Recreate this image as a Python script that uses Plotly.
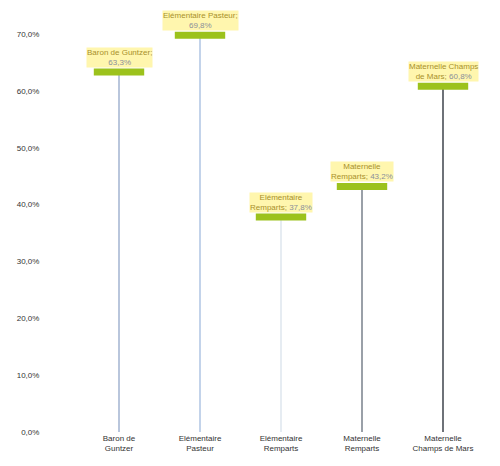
import plotly.graph_objects as go

categories = ["Baron de<br>Guntzer", "Elémentaire<br>Pasteur", "Elémentaire<br>Remparts",
              "Maternelle<br>Remparts", "Maternelle<br>Champs de Mars"]
label_names = ["Baron de Guntzer;", "Elémentaire Pasteur;", "Elémentaire<br>Remparts;",
               "Maternelle<br>Remparts;", "Maternelle Champs<br>de Mars;"]
values = [0.633, 0.698, 0.378, 0.432, 0.608]
line_colors = ["#b9c6dc", "#c3d3ea", "#e6ecf2", "#9aa0a8", "#6e7278"]

fig = go.Figure()
fig.add_trace(go.Bar(x=categories, y=values, width=0.012,
                     marker=dict(color=line_colors, line=dict(width=0)),
                     hoverinfo="skip"))
fig.add_trace(go.Scatter(x=categories, y=values, mode="markers",
                         marker=dict(symbol="line-ew", size=36,
                                     line=dict(width=7, color="#9cc21c")),
                         hoverinfo="skip", cliponaxis=False))

for c, n, v in zip(categories, label_names, values):
    pct = f"{v*100:.1f}%".replace(".", ",")
    if "<br>" in n:
        txt = f"{n} <span style='color:#8a8f9a'>{pct}</span>"
    else:
        txt = f"{n}<br><span style='color:#8a8f9a'>{pct}</span>"
    fig.add_annotation(x=c, y=v, yanchor="bottom", yshift=4, showarrow=False,
                       text=txt,
                       font=dict(family="Liberation Sans", size=8, color="#a8902c"),
                       bgcolor="rgba(255,240,120,0.6)", borderpad=0)

fig.update_layout(
    width=500, height=466,
    margin=dict(l=68, r=22, t=26, b=42),
    plot_bgcolor="white", paper_bgcolor="white",
    separators=",.",
    showlegend=False,
    bargap=0,
    xaxis=dict(showgrid=False, showline=False, zeroline=False,
               tickfont=dict(family="Liberation Sans", size=8, color="#333333"),
               ticks="", automargin=False),
    yaxis=dict(range=[0, 0.7], tickformat=".1%", dtick=0.1, showgrid=False,
               zeroline=False, showline=False, ticks="outside", ticklen=34,
               tickcolor="rgba(0,0,0,0)", automargin=False,
               tickfont=dict(family="Liberation Sans", size=8, color="#333333")),
)
fig.write_html("out.html")
